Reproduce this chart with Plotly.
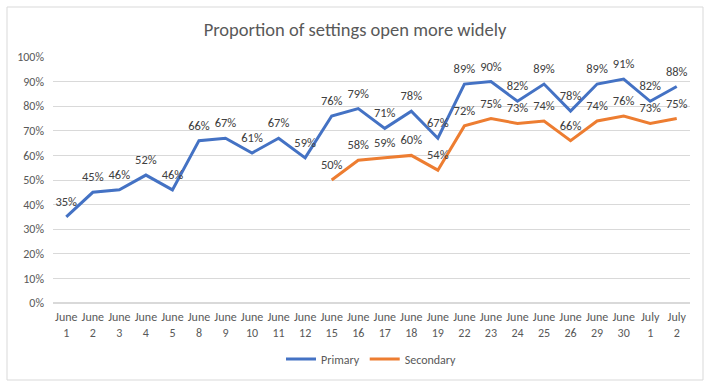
import plotly.graph_objects as go

categories = ["June<br>1", "June<br>2", "June<br>3", "June<br>4", "June<br>5", "June<br>8",
              "June<br>9", "June<br>10", "June<br>11", "June<br>12", "June<br>15", "June<br>16",
              "June<br>17", "June<br>18", "June<br>19", "June<br>22", "June<br>23", "June<br>24",
              "June<br>25", "June<br>26", "June<br>29", "June<br>30", "July<br>1", "July<br>2"]
primary = [35, 45, 46, 52, 46, 66, 67, 61, 67, 59, 76, 79, 71, 78, 67, 89, 90, 82, 89, 78, 89, 91, 82, 88]
secondary = [None] * 10 + [50, 58, 59, 60, 54, 72, 75, 73, 74, 66, 74, 76, 73, 75]
y_ticks = list(range(0, 101, 10))
y_tick_labels = [f"{v}%" for v in y_ticks]

FONT = "Carlito, Calibri, Liberation Sans Narrow, Liberation Sans, sans-serif"

fig = go.Figure()
for name, vals, color in [("Primary", primary, "#4472C4"), ("Secondary", secondary, "#ED7D31")]:
    fig.add_trace(go.Scatter(
        x=categories, y=vals, name=name, mode="lines",
        line=dict(color=color, width=3), hoverinfo="skip"))
for vals in [primary, secondary]:
    fig.add_trace(go.Scatter(
        x=categories, y=vals, mode="markers+text", showlegend=False,
        marker=dict(size=11, opacity=0),
        text=[f"{v}%" if v is not None else "" for v in vals], textposition="top center",
        textfont=dict(size=12.5, color="#404040", family=FONT),
        hoverinfo="skip"))

fig.update_layout(
    width=710, height=388,
    margin=dict(l=53, r=20, t=57, b=85),
    paper_bgcolor="white", plot_bgcolor="white",
    font=dict(family=FONT, color="#595959", size=12),
    title=dict(text="Proportion of settings open more widely", x=0.5, xanchor="center",
               y=1 - 30 / 388, yanchor="middle", yref="container",
               font=dict(size=18.5, color="#595959", family=FONT)),
    showlegend=True,
    legend=dict(orientation="h", x=0.5, xanchor="center", y=-0.228, yanchor="middle",
                font=dict(size=12, color="#595959", family=FONT), itemwidth=30),
    xaxis=dict(type="category", range=[-0.5, len(categories) - 0.5], showgrid=False,
               showline=False, ticks="", tickangle=0, ticklabelstandoff=5,
               tickfont=dict(size=12, color="#595959", family=FONT)),
    yaxis=dict(range=[0, 100], tickmode="array", tickvals=y_ticks, ticktext=y_tick_labels,
               showgrid=True, gridcolor="#D9D9D9", gridwidth=1, zeroline=True,
               zerolinecolor="#D9D9D9", showline=False, ticks="", ticklabelstandoff=8,
               tickfont=dict(size=12, color="#595959", family=FONT)),
    shapes=[dict(type="rect", xref="paper", yref="paper",
                 x0=(7 - 53) / 637, x1=(703 - 53) / 637,
                 y0=(303 - 380) / 246, y1=(303 - 7) / 246,
                 line=dict(color="#D9D9D9", width=1), fillcolor="rgba(0,0,0,0)", layer="below")],
)

fig.write_html("out.html", config={"displayModeBar": False},
               post_script="document.body.style.margin='0';")
